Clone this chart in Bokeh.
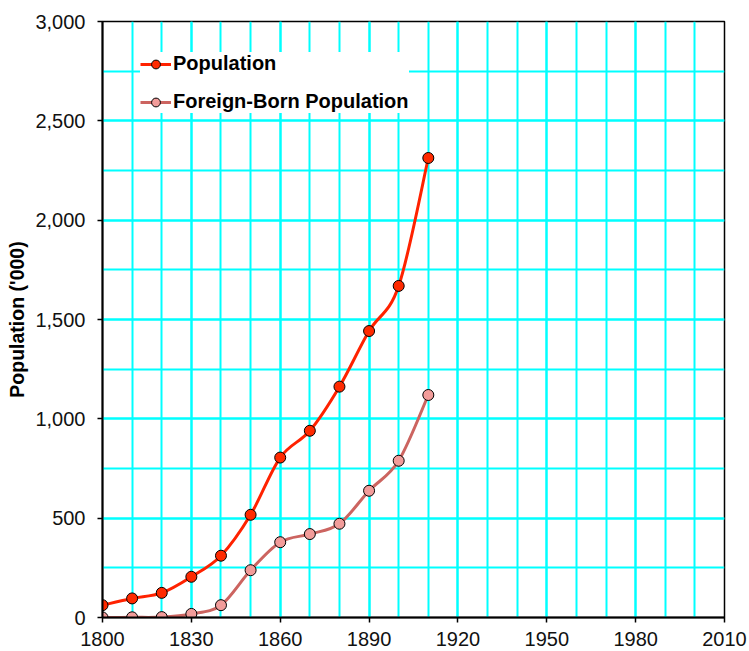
from bokeh.plotting import figure
from bokeh.models import (Range1d, SingleIntervalTicker, NumeralTickFormatter,
                          Legend, LegendItem, ColumnDataSource)
from bokeh.embed import file_html
from bokeh.resources import INLINE

years = [1800, 1810, 1820, 1830, 1840, 1850, 1860, 1870, 1880, 1890, 1900, 1910]
population = [62, 96, 124, 205, 311, 517, 805, 940, 1162, 1442, 1669, 2313]
foreign_born = [0, 1, 2, 18, 62, 238, 379, 420, 472, 638, 789, 1120]

x_start, x_end = 1800, 2010
y_start, y_end = 0, 3000

FONT = "Liberation Sans"


def smooth_segments(xs, ys):
    # Catmull-Rom style bezier segments between consecutive data points
    n = len(xs)
    d = dict(x0=[], y0=[], x1=[], y1=[], cx0=[], cy0=[], cx1=[], cy1=[])
    for i in range(n - 1):
        ip = max(i - 1, 0)
        inn = min(i + 2, n - 1)
        d["x0"].append(xs[i]); d["y0"].append(ys[i])
        d["x1"].append(xs[i + 1]); d["y1"].append(ys[i + 1])
        d["cx0"].append(xs[i] + (xs[i + 1] - xs[ip]) / 6)
        d["cy0"].append(ys[i] + (ys[i + 1] - ys[ip]) / 6)
        d["cx1"].append(xs[i + 1] - (xs[inn] - xs[i]) / 6)
        d["cy1"].append(ys[i + 1] - (ys[inn] - ys[i]) / 6)
    return ColumnDataSource(d)


p = figure(width=749, height=651, output_backend="svg", toolbar_location=None,
           x_range=Range1d(x_start, x_end), y_range=Range1d(y_start, y_end),
           min_border_left=102, min_border_right=25, min_border_top=21,
           min_border_bottom=34)

p.background_fill_color = "white"
p.outline_line_color = "black"
p.outline_line_width = 1.5

p.xaxis.ticker = SingleIntervalTicker(interval=30, num_minor_ticks=3)
p.yaxis.ticker = SingleIntervalTicker(interval=500, num_minor_ticks=2)
p.yaxis.formatter = NumeralTickFormatter(format="0,0")

for g in (p.xgrid, p.ygrid):
    g.grid_line_color = "#00ffff"
    g.grid_line_width = 2
    g.minor_grid_line_color = "#00ffff"
    g.minor_grid_line_width = 2

for ax in (p.xaxis, p.yaxis):
    ax.axis_line_color = "black"
    ax.axis_line_width = 2
    ax.major_tick_line_color = "black"
    ax.major_tick_line_width = 1.5
    ax.major_tick_out = 5
    ax.major_tick_in = 0
    ax.minor_tick_line_color = None
    ax.major_label_text_font = FONT
    ax.major_label_text_font_size = "20px"
    ax.major_label_text_color = "#111111"

p.xaxis.major_label_standoff = 9
p.yaxis.major_label_standoff = 12
p.yaxis.axis_label = "Population ('000)"
p.yaxis.axis_label_text_font = FONT
p.yaxis.axis_label_text_font_size = "19.5px"
p.yaxis.axis_label_text_font_style = "bold"
p.yaxis.axis_label_text_color = "black"
p.yaxis.axis_label_standoff = 4

pop_line_color = "#ff2200"
pop_fill = "#ff2a00"
fb_line_color = "#cc6460"
fb_fill = "#f29c9a"

b1 = p.bezier(x0="x0", y0="y0", x1="x1", y1="y1", cx0="cx0", cy0="cy0",
              cx1="cx1", cy1="cy1", source=smooth_segments(years, population),
              line_color=pop_line_color, line_width=3)
b2 = p.bezier(x0="x0", y0="y0", x1="x1", y1="y1", cx0="cx0", cy0="cy0",
              cx1="cx1", cy1="cy1", source=smooth_segments(years, foreign_born),
              line_color=fb_line_color, line_width=3)

s2 = p.scatter(years, foreign_born, size=11, fill_color=fb_fill,
               line_color="black", line_width=1)
s1 = p.scatter(years, population, size=11, fill_color=pop_fill,
               line_color="black", line_width=1)

legend = Legend(items=[LegendItem(label="Population", renderers=[b1, s1]),
                       LegendItem(label="Foreign-Born Population", renderers=[b2, s2])],
                location=(38, 504))
legend.label_text_font = FONT
legend.label_text_font_size = "20px"
legend.label_text_font_style = "bold"
legend.label_text_color = "black"
legend.background_fill_color = "white"
legend.background_fill_alpha = 1.0
legend.border_line_color = None
legend.glyph_width = 31
legend.glyph_height = 22
legend.label_height = 22
legend.label_standoff = 2
legend.spacing = 15
legend.padding = 10
legend.margin = 0
p.add_layout(legend, "center")

open("out.html", "w").write(file_html(p, INLINE))
